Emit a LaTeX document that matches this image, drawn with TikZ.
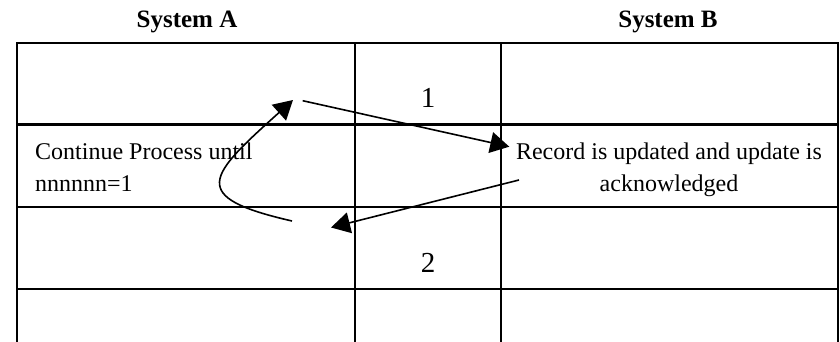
\documentclass[tikz,border=0pt]{standalone}
\usepackage{fontspec}
\setmainfont{Liberation Serif}
\usetikzlibrary{arrows.meta}
\tikzset{
  gridline/.style={line width=2.2pt, black},
  arr/.style={line width=1.6pt, -{Triangle[length=19pt,width=21pt]}},
  body/.style={inner sep=0pt, font=\fontsize{24}{31.5}\selectfont},
  num/.style={inner sep=0pt, font=\fontsize{29}{34}\selectfont, anchor=base},
  head/.style={inner sep=0pt, font=\fontsize{25}{30}\selectfont\bfseries, anchor=base},
}
\begin{document}
\begin{tikzpicture}[x=1pt,y=-1pt]
\useasboundingbox (0,0) rectangle (840,342);
% grid
\draw[gridline] (16.7,342) -- (16.7,43) -- (838.3,43) -- (838.3,342);
\draw[gridline] (355,43) -- (355,342);
\draw[gridline] (501,43) -- (501,342);
\draw[gridline] (16.7,124.5) -- (838.3,124.5);
\draw[gridline] (16.7,207) -- (838.3,207);
\draw[gridline] (16.7,289) -- (838.3,289);
% headers
\node[head] (hA) at (187,27.3) {System A};
\node[head] (hB) at (668,27.3) {System B};
% texts
\node[body, anchor=north west, align=left] (ta) at (35,143) {Continue Process until\\nnnnnn=1};
\node[body, anchor=north, align=center] (tb) at (669,143) {Record is updated and update is\\acknowledged};
\node[num] (n1) at (428,108) {1};
\node[num] (n2) at (428,272) {2};
% arrow end points
\coordinate (a1s) at (302.7,100.7);
\coordinate (a1e) at (509.3,146.7);
\coordinate (a2s) at (519,180);
\coordinate (a2e) at (331,227.5);
\coordinate (cs) at (292,221);
\coordinate (ce) at (293,100);
\draw[arr] (a1s) -- (a1e);
\draw[arr] (a2s) -- (a2e);
\draw[arr] (cs) .. controls (187,197) and (208,176.5) .. (ce);
\end{tikzpicture}
\end{document}
